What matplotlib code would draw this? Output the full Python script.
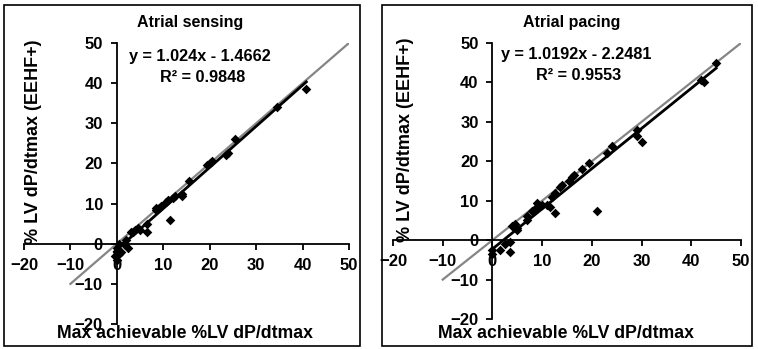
import numpy as np
import matplotlib
matplotlib.use("Agg")
from matplotlib import pyplot as plt
from matplotlib.patches import Rectangle

plt.rcParams['font.family'] = ['Liberation Sans', 'DejaVu Sans']
plt.rcParams['font.weight'] = 'bold'

# Atrial sensing: max achievable vs EEHF+ (% LV dP/dtmax)
sens_x = [40.8, 34.5, 25.5, 24.0, 23.5, 20.5, 20.0, 19.5, 15.5, 14.0, 14.0, 12.5,
          12.0, 11.5, 11.0, 10.5, 9.5, 9.0, 8.5, 8.5, 6.5, 6.5, 5.0, 4.5, 4.0,
          3.5, 3.0, 2.5, 2.0, 1.5, 1.0, 0.5, 0.0, -0.5, 0.0, 0.5, 0.0]
sens_y = [38.5, 34.0, 26.0, 22.5, 22.0, 20.5, 20.0, 19.5, 15.5, 12.0, 12.5, 12.0,
          11.5, 6.0, 11.0, 10.5, 9.5, 9.0, 8.5, 9.0, 3.0, 5.0, 3.5, 4.0, 3.5,
          3.0, 3.0, -1.0, 1.0, 0.0, -2.0, -2.5, -4.0, -3.0, -1.0, 0.0, -2.0]

# Atrial pacing
pace_x = [45.0, 42.5, 42.0, 30.0, 29.0, 29.0, 24.0, 23.0, 21.0, 19.5, 18.0, 16.5,
          16.0, 15.5, 14.0, 13.5, 12.5, 12.0, 12.5, 11.5, 11.0, 10.0, 9.0, 9.0,
          8.0, 7.0, 7.0, 5.0, 5.0, 4.5, 4.0, 3.5, 3.5, 2.5, 1.5, 0.0, 0.0]
pace_y = [45.0, 40.0, 40.5, 25.0, 26.5, 28.0, 24.0, 22.0, 7.5, 19.5, 18.0, 16.5,
          16.0, 15.0, 14.0, 13.5, 7.0, 11.0, 12.0, 8.5, 9.0, 9.0, 9.5, 8.5,
          7.5, 5.0, 6.0, 3.0, 2.5, 4.0, 3.5, -3.0, -0.5, -1.0, -2.5, -2.5, -3.5]

panels = [
    dict(title="Atrial sensing", x=sens_x, y=sens_y, slope=1.024, icept=-1.4662,
         eq="y = 1.024x - 1.4662", r2="R² = 0.9848"),
    dict(title="Atrial pacing", x=pace_x, y=pace_y, slope=1.0192, icept=-2.2481,
         eq="y = 1.0192x - 2.2481", r2="R² = 0.9553"),
]

W, H = 758, 349
fig = plt.figure(figsize=(W / 100, H / 100), dpi=100)

# pixel boxes: axes area, outer frame, text anchors
layout = [
    dict(ax=(24, 43, 349, 324), frame=(4, 5, 360, 346), title=(190, 23),
         eq=(200, 57), r2=(203, 77), ylab=(34, 142), xlab=(185, 333)),
    dict(ax=(393, 43, 741, 319), frame=(382, 5, 752, 346), title=(572, 23),
         eq=(576, 55), r2=(579, 75), ylab=(405, 140), xlab=(566, 333)),
]


def fx(px):
    return px / W


def fy(py):
    return 1 - py / H


for p, lo in zip(panels, layout):
    x0, y0, x1, y1 = lo["ax"]
    ax = fig.add_axes([fx(x0), fy(y1), fx(x1) - fx(x0), fy(y0) - fy(y1)])
    ax.set_xlim(-20, 50)
    ax.set_ylim(-20, 50)
    ax.patch.set_alpha(0)
    for s in ["top", "right"]:
        ax.spines[s].set_visible(False)
    ax.spines["left"].set_position(("data", 0))
    ax.spines["bottom"].set_position(("data", 0))
    for s in ["left", "bottom"]:
        ax.spines[s].set_linewidth(1.3)
    ax.set_xticks(np.arange(-20, 51, 10))
    ax.set_yticks(np.arange(-20, 51, 10))
    ax.tick_params(direction="out", length=4, width=1.3, labelsize=12, pad=6)
    for lbl in ax.get_xticklabels() + ax.get_yticklabels():
        lbl.set_fontweight("bold")

    # identity line
    ax.plot([-10, 50], [-10, 50], color="#858585", lw=1.6, zorder=2)
    # regression fit over the data range
    xs = np.array([min(p["x"]), max(p["x"])])
    ax.plot(xs, p["slope"] * xs + p["icept"], color="black", lw=2.0, zorder=3)
    ax.scatter(p["x"], p["y"], marker="D", s=24, color="black", zorder=4,
               linewidths=0)

    fig.text(fx(lo["title"][0]), fy(lo["title"][1]), p["title"], ha="center",
             va="center", fontsize=11.5, fontweight="bold")
    fig.text(fx(lo["eq"][0]), fy(lo["eq"][1]), p["eq"], ha="center",
             va="center", fontsize=11.7, fontweight="bold")
    fig.text(fx(lo["r2"][0]), fy(lo["r2"][1]), p["r2"], ha="center",
             va="center", fontsize=11.7, fontweight="bold")
    fig.text(fx(lo["ylab"][0]), fy(lo["ylab"][1]), "% LV dP/dtmax (EEHF+)",
             ha="center", va="center", rotation=90, fontsize=13,
             fontweight="bold")
    fig.text(fx(lo["xlab"][0]), fy(lo["xlab"][1]), "Max achievable %LV dP/dtmax",
             ha="center", va="center", fontsize=12.7, fontweight="bold")

    fx0, fy0, fx1, fy1 = lo["frame"]
    fig.add_artist(Rectangle((fx(fx0), fy(fy1)), fx(fx1) - fx(fx0),
                             fy(fy0) - fy(fy1), transform=fig.transFigure,
                             fill=False, edgecolor="black", lw=1.2))

fig.savefig("out.png", dpi=100)
